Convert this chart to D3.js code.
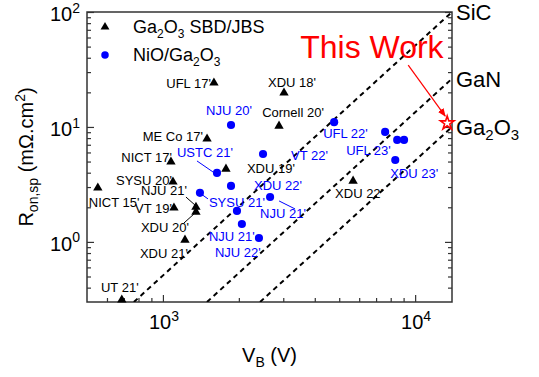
<!DOCTYPE html>
<html>
<head>
<meta charset="utf-8">
<script src="https://cdn.jsdelivr.net/npm/d3@7"></script>
<style>
  body { margin: 0; background: #fff; }
  text { font-family: "Liberation Sans", Arial, sans-serif; }
</style>
</head>
<body>
<div id="chart"></div>
<script>
// Ga2O3 SBD/JBS devices (black triangles)
var sbdV = [1593, 3020, 2886, 1496, 1076, 1778, 1096, 552, 1106, 1352, 1352, 1223, 687, 5675];
var sbdR = [24.2, 19.8, 10.2, 7.87, 4.97, 4.31, 3.33, 2.95, 1.98, 2.01, 1.82, 1.04, 0.313, 3.39];
var sbdLabels = ["UFL 17'", "XDU 18'", "Cornell 20'", "ME Co 17'", "NICT 17'", "XDU 19'", "SYSU 20'",
    "NICT 15'", "VT 19'", "NJU 21'", "XDU 20'", "XDU 21'", "UT 21'", "XDU 22'"];

// NiO/Ga2O3 devices (blue circles)
var nioV = [1862, 4773, 2494, 1638, 1862, 1402, 2660, 1966, 2056, 2403, 7603, 8488, 9036, 8340];
var nioR = [10.4, 11.0, 5.82, 3.98, 3.07, 2.67, 2.46, 1.86, 1.43, 1.08, 9.06, 7.71, 7.71, 5.16];
var nioLabels = ["NJU 20'", "UFL 22'", "VT 22'", "USTC 21'", "XDU 22'", "SYSU 21'", "NJU 21'", "",
    "NJU 21'", "NJU 22'", "", "UFL 23'", "", "XDU 23'"];

// this work
var thisV = 13400, thisR = 10.8;

// material limit lines, end points [V, R]
var limitNames = ["SiC", "GaN", "Ga2O3"];
var limitLines = [
    [[767, 0.3], [14000, 100]],
    [[1495, 0.3], [14000, 26.3]],
    [[2427, 0.3], [14000, 10]]
];

var xDomain = [500, 14000], yDomain = [0.3, 100];
var xMajor = [1000, 10000], yMajor = [1, 10, 100];

// label placement (px offsets from the mark)
var sbdLayout = [[-3, 5, "end"], [8, -6, "middle"], [14, -9, "middle"], [-4, 2, "end"], [1, 0, "end"],
    [21, 4, "start"], [-1, 3, "end"], [-9, 19, "start"], [-2, 5, "end"], [-9, -12, "end"],
    [-7, 20, "end"], [3, 18, "end"], [-2, -8, "middle"], [6, 17, "middle"]];
var nioLayout = [[-2, -10, "middle"], [-11, 16, "start"], [28, 6, "start"], [-40, -16, "start"],
    [23, 4, "start"], [9, 14, "start"], [-10, 21, "start"], null, [-33, 17, "start"], [-44, 19, "start"],
    null, [-51, 15, "start"], null, [-5, 18, "start"]];
// leader lines: [set, index, dx1, dy1, dx2, dy2]
var leaders = [["sbd", 9, -10, -10, -1, -2], ["sbd", 10, -12, 11, -2, 2],
    ["nio", 3, -20, -12, -4, -1], ["nio", 5, 1, 1, 8, 6], ["nio", 6, 25, 12, 9, 4]];

var W = 539, H = 377;
var margin = { top: 12, right: 87, bottom: 75, left: 87 };
var width = W - margin.left - margin.right,
    height = H - margin.top - margin.bottom;

var svg = d3.select("#chart").append("svg")
    .attr("width", W).attr("height", H);
var g = svg.append("g")
    .attr("transform", "translate(" + margin.left + "," + margin.top + ")");

var x = d3.scaleLog().domain(xDomain).range([0, width]);
var y = d3.scaleLog().domain(yDomain).range([height, 0]);

// text with sub/superscripts
function rich(sel, parts, size) {
    var small = Math.round(size * 0.68);
    parts.forEach(function(p) {
        var t = sel.append("tspan").text(p[0]);
        if (p[1] == "sub") t.attr("font-size", small).attr("dy", size * 0.25);
        else if (p[1] == "sup") t.attr("font-size", small).attr("dy", -size * 0.42);
        else if (p[1] == "back") t.attr("dy", -size * 0.25);
        else if (p[1] == "down") t.attr("dy", size * 0.42);
    });
}

svg.append("defs").append("clipPath").attr("id", "clip")
    .append("rect").attr("width", width).attr("height", height);

// minor ticks
function minors(dom) {
    var out = [];
    for (var e = -1; e <= 4; e++) {
        for (var m = 2; m <= 9; m++) {
            var v = m * Math.pow(10, e);
            if (v > dom[0] * 1.0001 && v < dom[1] * 0.9999) out.push(v);
        }
    }
    return out;
}

var axisCol = "#333";
var xb = g.append("g").attr("transform", "translate(0," + height + ")");
xb.call(d3.axisBottom(x).tickValues(xMajor).tickSize(-7).tickFormat(""));
xb.append("g").call(d3.axisBottom(x).tickValues(minors(xDomain)).tickSize(-4).tickFormat(""));
var yl = g.append("g");
yl.call(d3.axisLeft(y).tickValues(yMajor).tickSize(-7).tickFormat(""));
yl.append("g").call(d3.axisLeft(y).tickValues(minors(yDomain)).tickSize(-4).tickFormat(""));
var yr = g.append("g").attr("transform", "translate(" + width + ",0)");
yr.call(d3.axisRight(y).tickValues(yMajor).tickSize(-7).tickFormat(""));
yr.append("g").call(d3.axisRight(y).tickValues(minors(yDomain)).tickSize(-4).tickFormat(""));
g.selectAll(".domain").remove();
g.selectAll(".tick line").attr("stroke", axisCol).attr("stroke-width", 1.2);
g.append("rect").attr("width", width).attr("height", height)
    .attr("fill", "none").attr("stroke", axisCol).attr("stroke-width", 1.5);

// tick labels
xMajor.forEach(function(v) {
    var t = g.append("text").attr("x", x(v) + 1).attr("y", height + 27)
        .attr("text-anchor", "middle").attr("font-size", 20);
    rich(t, [["10", ""], [String(Math.round(Math.log10(v))), "sup"]], 20);
});
yMajor.forEach(function(v) {
    var t = g.append("text").attr("x", -7).attr("y", y(v) + 9)
        .attr("text-anchor", "end").attr("font-size", 20);
    rich(t, [["10", ""], [String(Math.round(Math.log10(v))), "sup"]], 20);
});

// axis titles
var xt = svg.append("text").attr("x", margin.left + width / 2).attr("y", 362)
    .attr("text-anchor", "middle").attr("font-size", 20);
rich(xt, [["V", ""], ["B", "sub"], [" (V)", "back"]], 20);
var ytt = svg.append("text").attr("transform", "translate(33," + (margin.top + height / 2) + ") rotate(-90)")
    .attr("text-anchor", "middle").attr("font-size", 20);
rich(ytt, [["R", ""], ["on,sp", "sub"], [" (m\u03A9.cm", "back"], ["2", "sup"], [")", "down"]], 20);

// limit lines
var line = d3.line().x(function(d) { return x(d[0]); }).y(function(d) { return y(d[1]); });
g.append("g").attr("clip-path", "url(#clip)")
    .selectAll("path").data(limitLines).enter().append("path")
    .attr("d", line)
    .attr("fill", "none").attr("stroke", "#000").attr("stroke-width", 2)
    .attr("stroke-dasharray", "5,4");

// limit labels at right edge
limitLines.forEach(function(l, i) {
    var last = l[l.length - 1];
    var t = g.append("text").attr("x", width + 4).attr("y", y(last[1]) + 8)
        .attr("font-size", 22);
    if (limitNames[i] == "Ga2O3") rich(t, [["Ga", ""], ["2", "sub"], ["O", "back"], ["3", "sub"]], 22);
    else t.text(limitNames[i]);
});

// leader lines
leaders.forEach(function(l) {
    var px = l[0] == "sbd" ? x(sbdV[l[1]]) : x(nioV[l[1]]);
    var py = l[0] == "sbd" ? y(sbdR[l[1]]) : y(nioR[l[1]]);
    g.append("line")
        .attr("x1", px + l[2]).attr("y1", py + l[3])
        .attr("x2", px + l[4]).attr("y2", py + l[5])
        .attr("stroke", l[0] == "sbd" ? "#000" : "#0000ff").attr("stroke-width", 1);
});

// marks
var tri = d3.symbol().type(d3.symbolTriangle).size(38);
var dot = d3.symbol().type(d3.symbolCircle).size(52);

g.selectAll(".sbd").data(sbdV).enter().append("path")
    .attr("class", "sbd")
    .attr("transform", function(d, i) { return "translate(" + x(d) + "," + y(sbdR[i]) + ")"; })
    .attr("d", tri).attr("fill", "#000");

g.selectAll(".nio").data(nioV).enter().append("path")
    .attr("class", "nio")
    .attr("transform", function(d, i) { return "translate(" + x(d) + "," + y(nioR[i]) + ")"; })
    .attr("d", dot).attr("fill", "#0000ff");

// point labels
sbdLabels.forEach(function(s, i) {
    var p = sbdLayout[i];
    g.append("text").attr("x", x(sbdV[i]) + p[0]).attr("y", y(sbdR[i]) + p[1])
        .attr("text-anchor", p[2]).attr("font-size", 13).attr("fill", "#000").text(s);
});
nioLabels.forEach(function(s, i) {
    var p = nioLayout[i];
    if (!p || !s) return;
    g.append("text").attr("x", x(nioV[i]) + p[0]).attr("y", y(nioR[i]) + p[1])
        .attr("text-anchor", p[2]).attr("font-size", 13).attr("fill", "#0000ff").text(s);
});

// this work
svg.select("defs").append("marker").attr("id", "arr")
    .attr("viewBox", "0 0 10 10").attr("refX", 9).attr("refY", 5)
    .attr("markerWidth", 7).attr("markerHeight", 7).attr("orient", "auto")
    .append("path").attr("d", "M0,1 L10,5 L0,9 z").attr("fill", "#ff0000");
var sx = x(thisV), sy = y(thisR);
g.append("line").attr("x1", sx - 39).attr("y1", sy - 58).attr("x2", sx - 2).attr("y2", sy - 7)
    .attr("stroke", "#ff0000").attr("stroke-width", 1.2).attr("marker-end", "url(#arr)");
g.append("path").attr("transform", "translate(" + sx + "," + sy + ")")
    .attr("d", d3.symbol().type(d3.symbolStar).size(58))
    .attr("fill", "#fff").attr("stroke", "#ff0000").attr("stroke-width", 1.6);
g.append("text").attr("x", sx - 147).attr("y", sy - 65)
    .attr("font-size", 32).attr("fill", "#ff0000").text("This Work");

// legend
var lg = g.append("g").attr("transform", "translate(18,15)");
lg.append("path").attr("d", d3.symbol().type(d3.symbolTriangle).size(34)).attr("fill", "#000");
var l1 = lg.append("text").attr("x", 28).attr("y", 6).attr("font-size", 18);
rich(l1, [["Ga", ""], ["2", "sub"], ["O", "back"], ["3", "sub"], [" SBD/JBS", "back"]], 18);
lg.append("path").attr("transform", "translate(0,28)")
    .attr("d", d3.symbol().type(d3.symbolCircle).size(44)).attr("fill", "#0000ff");
var l2 = lg.append("text").attr("x", 28).attr("y", 34).attr("font-size", 18);
rich(l2, [["NiO/Ga", ""], ["2", "sub"], ["O", "back"], ["3", "sub"]], 18);
</script>
</body>
</html>
